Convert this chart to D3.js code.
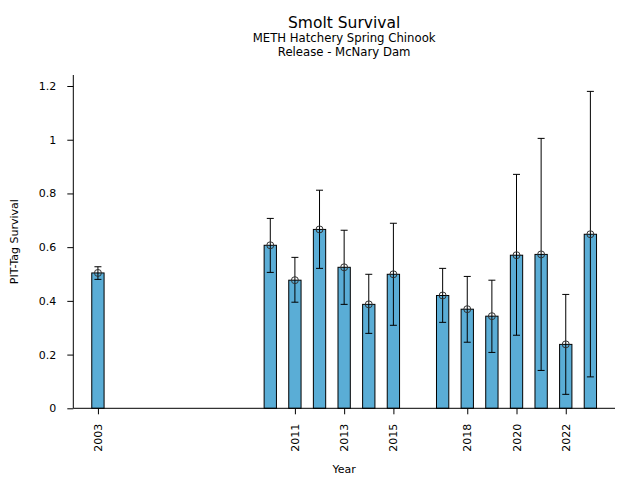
<!DOCTYPE html>
<html>
<head>
<meta charset="utf-8">
<script src="https://cdn.jsdelivr.net/npm/d3@7"></script>
<style>
  body { margin: 0; background: #fff; }
  svg { display: block; font-family: "DejaVu Sans", sans-serif; }
</style>
</head>
<body>
<svg id="chart" width="640" height="480"></svg>
<script>
const years = [2003, 2010, 2011, 2012, 2013, 2014, 2015, 2017, 2018, 2019, 2020, 2021, 2022, 2023];
const survival = [0.504, 0.607, 0.477, 0.666, 0.525, 0.387, 0.499, 0.420, 0.369, 0.343, 0.570, 0.573, 0.238, 0.648];
const upper = [0.527, 0.707, 0.562, 0.812, 0.663, 0.499, 0.689, 0.521, 0.491, 0.477, 0.871, 1.005, 0.424, 1.180];
const lower = [0.480, 0.506, 0.395, 0.521, 0.387, 0.279, 0.309, 0.320, 0.246, 0.208, 0.272, 0.141, 0.052, 0.117];
const xTickYears = [2003, 2011, 2013, 2015, 2018, 2020, 2022];
const yTicks = [0, 0.2, 0.4, 0.6, 0.8, 1, 1.2];

(function () {
const data = years.map((yr, i) => ({ year: yr, v: survival[i], hi: upper[i], lo: lower[i] }));

const svg = d3.select("#chart");
const mLeft = 73.3, mRight = 615, mTop = 75, mBottom = 408.3;

const x = d3.scaleLinear().domain([2002, 2024]).range([mLeft, mRight]);
const y = d3.scaleLinear().domain([0, 1.241]).range([mBottom, mTop]);
const barW = x(2000.5) - x(2000);

// Bars
svg.append("g").selectAll("rect").data(data).join("rect")
  .attr("x", d => x(d.year) - barW / 2)
  .attr("y", d => y(d.v))
  .attr("width", barW)
  .attr("height", d => y(0) - y(d.v))
  .attr("fill", "#5aadd6")
  .attr("stroke", "#000")
  .attr("stroke-width", 1);

// Error bars
const eb = svg.append("g").attr("stroke", "#000").attr("stroke-width", 1).attr("fill", "none");
eb.selectAll("line.v").data(data).join("line").attr("class", "v")
  .attr("x1", d => x(d.year)).attr("x2", d => x(d.year))
  .attr("y1", d => y(d.lo)).attr("y2", d => y(d.hi));
eb.selectAll("line.ct").data(data).join("line").attr("class", "ct")
  .attr("x1", d => x(d.year) - 3.5).attr("x2", d => x(d.year) + 3.5)
  .attr("y1", d => y(d.hi)).attr("y2", d => y(d.hi));
eb.selectAll("line.cb").data(data).join("line").attr("class", "cb")
  .attr("x1", d => x(d.year) - 3.5).attr("x2", d => x(d.year) + 3.5)
  .attr("y1", d => y(d.lo)).attr("y2", d => y(d.lo));

// Markers
svg.append("g").selectAll("circle").data(data).join("circle")
  .attr("cx", d => x(d.year))
  .attr("cy", d => y(d.v))
  .attr("r", 3.5)
  .attr("fill", "none")
  .attr("stroke", "#333")
  .attr("stroke-width", 1);

// Axes
const yAxis = d3.axisLeft(y).tickValues(yTicks).tickFormat(d3.format("~g")).tickSize(6).tickPadding(11).tickSizeOuter(0);
const gy = svg.append("g").attr("transform", `translate(${mLeft},0)`).call(yAxis);
gy.select(".domain").attr("d", `M0,${mTop}V${mBottom}`).attr("stroke", "#000");
gy.selectAll("text").attr("font-size", "11px").attr("font-family", "DejaVu Sans").attr("fill", "#000");
gy.selectAll("line").attr("stroke", "#000");

const xAxis = d3.axisBottom(x).tickValues(xTickYears).tickFormat(d3.format("d")).tickSize(6).tickSizeOuter(0);
const gx = svg.append("g").attr("transform", `translate(0,${mBottom})`).call(xAxis);
gx.select(".domain").attr("d", `M${mLeft},0H${mRight}`).attr("stroke", "#000");
gx.selectAll("line").attr("stroke", "#000");
gx.selectAll("text")
  .attr("font-size", "11px").attr("font-family", "DejaVu Sans").attr("fill", "#000")
  .attr("text-anchor", "end")
  .attr("dy", null)
  .attr("y", 0)
  .attr("dominant-baseline", "central")
  .attr("transform", "translate(0,15.5) rotate(-90)");

// Labels
svg.append("text").attr("x", (mLeft + mRight) / 2).attr("y", 472.5)
  .attr("text-anchor", "middle").attr("font-size", "11px").text("Year");
svg.append("text").attr("transform", `translate(18,${(mTop + mBottom) / 2}) rotate(-90)`)
  .attr("text-anchor", "middle").attr("font-size", "11px").text("PIT-Tag Survival");

// Titles
svg.append("text").attr("x", (mLeft + mRight) / 2).attr("y", 27.5)
  .attr("text-anchor", "middle").attr("font-size", "15.5px").text("Smolt Survival");
svg.append("text").attr("x", (mLeft + mRight) / 2).attr("y", 42)
  .attr("text-anchor", "middle").attr("font-size", "11.7px").text("METH Hatchery Spring Chinook");
svg.append("text").attr("x", (mLeft + mRight) / 2).attr("y", 56)
  .attr("text-anchor", "middle").attr("font-size", "11.7px").text("Release - McNary Dam");
})();
</script>
</body>
</html>
